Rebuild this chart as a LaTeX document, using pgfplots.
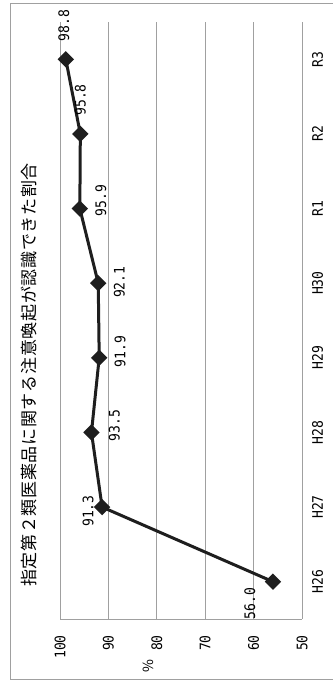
\documentclass[border=0pt]{standalone}
\usepackage{pgfplots}
\pgfplotsset{compat=1.18}
\usepackage{fontspec}
\setmainfont{Noto Sans CJK JP}
\newfontfamily\cjk[LetterSpace=4]{Noto Sans CJK JP}
\newfontfamily\num[FakeStretch=0.9]{DejaVu Sans Mono}
\definecolor{gridc}{RGB}{160,160,160}
\definecolor{linec}{RGB}{30,30,30}
\begin{document}
\begin{tikzpicture}
\useasboundingbox (0,0) rectangle (333bp,682bp);
\draw[gridc, line width=0.8bp] (10bp,3bp) rectangle (345bp,679bp);
\begin{axis}[
 at={(60bp,63bp)}, anchor=south west,
 scale only axis, width=242bp, height=597bp,
 x dir=reverse, xmin=50, xmax=100, ymin=-0.5, ymax=7.5,
 xtick={50,60,...,100}, ytick={0,...,7},
 yticklabels={H26,H27,H28,H29,H30,R1,R2,R3},
 axis x line*=bottom, axis y line*=right,
 axis line style={gridc, line width=0.8bp},
 xmajorgrids, grid style={gridc, line width=0.8bp},
 major tick length=0pt,
 /pgf/number format/assume math mode=true,
 ticklabel style={font=\num\fontsize{14.5bp}{17bp}\selectfont, text=black},
 xticklabel style={yshift=-16bp, rotate=90, anchor=east, inner sep=0pt},
 yticklabel style={xshift=10bp, rotate=90, anchor=north, inner sep=0pt},
 clip=false,
]
\addplot[linec, line width=3bp, mark=square*, mark size=4.3bp,
  mark options={rotate=45, fill=linec, solid},
  point meta=explicit symbolic, nodes near coords,
  visualization depends on={\thisrow{dx} \as \dx},
  visualization depends on={\thisrow{dy} \as \dy},
  nodes near coords style={xshift=\dx bp, yshift=\dy bp, rotate=90, anchor=center, inner sep=0pt, font=\num\fontsize{14.5bp}{17bp}\selectfont, text=black}]
  table[x=v, y=i, meta=lab] {
i v lab dx dy
0 56.0 56.0 -23 -22
1 91.3 91.3 -14 -4
2 93.5 93.5 23 7
3 91.9 91.9 21 6
4 92.1 92.1 21 1
5 95.9 95.9 21 8
6 95.8 95.8 0 34
7 98.8 98.8 -2 34
};
\end{axis}
\node[rotate=90, inner sep=0pt, font=\cjk\fontsize{17bp}{19bp}\selectfont] at (29bp, 307bp) {指定第２類医薬品に関する注意喚起が認識できた割合};
\node[rotate=90, inner sep=0pt, font=\fontsize{14bp}{16bp}\selectfont] at (148bp,16bp) {\%};
\end{tikzpicture}
\end{document}
